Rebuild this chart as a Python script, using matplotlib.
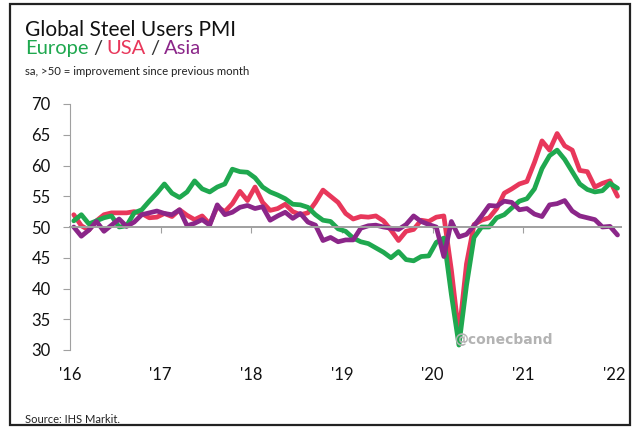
import matplotlib.pyplot as plt
from matplotlib.patches import Rectangle
import numpy as np

# Global Steel Users PMI, monthly Jan 2016 .. Jan 2022
europe = [51.0, 52.0, 50.5, 51.0, 51.5, 51.8, 50.0, 50.2, 52.3, 52.8, 54.2, 55.5,
          57.0, 55.5, 54.8, 55.7, 57.5, 56.2, 55.7, 56.5, 57.0, 59.4, 59.0, 58.9,
          58.0, 56.5, 55.7, 55.2, 54.6, 53.7, 53.6, 53.2, 52.0, 51.1, 50.9, 49.7,
          49.3, 48.2, 47.6, 47.3, 46.6, 45.9, 45.0, 46.0, 44.7, 44.5, 45.2, 45.3,
          47.5, 48.2, 39.0, 30.8, 40.5, 48.3, 50.0, 50.0, 51.5, 52.0, 53.1, 54.2,
          54.6, 56.2, 59.5, 61.6, 62.5, 61.0, 59.0, 57.0, 56.1, 55.7, 55.9, 57.1,
          56.3]
usa = [52.0, 50.2, 49.5, 51.0, 52.0, 52.3, 52.3, 52.3, 52.5, 52.2, 51.5, 51.6,
       52.2, 51.7, 52.8, 51.9, 51.2, 51.8, 50.5, 53.3, 52.5, 53.8, 55.8, 54.3,
       56.5, 54.0, 52.7, 53.0, 53.7, 52.5, 52.0, 52.3, 54.0, 56.0, 55.0, 54.0,
       52.2, 51.3, 51.7, 51.6, 51.8, 51.0, 49.5, 47.8, 49.3, 49.6, 51.1, 50.9,
       51.6, 51.8, 43.0, 32.5, 44.0, 50.4, 51.1, 51.5, 53.0, 55.5, 56.2, 57.0,
       57.4, 60.5, 64.0, 62.5, 65.2, 63.2, 62.5, 59.2, 59.0, 56.5, 57.1, 57.5,
       55.0]
asia = [50.0, 48.5, 49.5, 50.9, 49.3, 50.3, 51.3, 50.1, 50.8, 52.0, 52.3, 52.6,
        52.2, 52.0, 52.8, 50.2, 50.6, 51.2, 50.3, 53.6, 52.0, 52.4, 53.2, 53.5,
        53.0, 53.3, 51.1, 51.8, 52.4, 51.4, 52.2, 50.8, 50.3, 47.8, 48.3, 47.6,
        47.9, 47.9, 49.8, 50.2, 50.3, 50.0, 49.8, 49.6, 50.4, 51.8, 50.9, 50.4,
        50.0, 45.2, 50.9, 48.4, 48.8, 50.2, 51.8, 53.5, 53.4, 54.2, 54.0, 52.8,
        53.0, 52.1, 51.7, 53.6, 53.8, 54.3, 52.6, 51.8, 51.5, 51.2, 50.0, 50.1,
        48.7]

years = [2016, 2017, 2018, 2019, 2020, 2021, 2022]
year_labels = ["'16", "'17", "'18", "'19", "'20", "'21", "'22"]
yticks = [30, 35, 40, 45, 50, 55, 60, 65, 70]

GREEN = '#1fa84f'
RED = '#e8375b'
PURPLE = '#8b2689'
GREY = '#a0a0a0'

plt.rcParams['font.family'] = ['Lato', 'DejaVu Sans']

fig = plt.figure(figsize=(6.36, 4.28), dpi=100)
ax = fig.add_axes([70 / 636, 78 / 428, 551 / 636, 246 / 428])

x = 2016 + (np.arange(len(europe)) + 0.5) / 12
style = dict(lw=3.4, solid_joinstyle='round', solid_capstyle='round')
ax.plot(x, usa, color=RED, **style)
ax.plot(x, europe, color=GREEN, **style)
ax.plot(x, asia, color=PURPLE, **style)

ax.set_xlim(2016, 2022.08)
ax.set_ylim(30, 70)
ax.set_xticks(years)
ax.set_xticklabels(year_labels)
ax.set_yticks(yticks)

for s in ['top', 'right']:
    ax.spines[s].set_visible(False)
ax.spines['left'].set_color(GREY)
ax.spines['bottom'].set_position(('data', 50))
ax.spines['bottom'].set_color(GREY)
ax.spines['bottom'].set_linewidth(1.4)
ax.tick_params(axis='x', length=4, color=GREY, pad=97, labelsize=12, labelcolor='#111')
ax.tick_params(axis='y', length=5, color=GREY, pad=9, labelsize=12, labelcolor='#111')

# titles
fig.text(25 / 636, 1 - 36 / 428, 'Global Steel Users PMI', fontsize=15,
         color='#111111', va='baseline')

renderer = fig.canvas.get_renderer()
parts = [('Europe', GREEN), ('/', '#333333'), ('USA', RED), ('/', '#333333'), ('Asia', PURPLE)]
xpos = 25 / 636
gap = 4.5 / 636
for s, c in parts:
    t = fig.text(xpos, 1 - 54 / 428, s, fontsize=14.5, color=c, va='baseline')
    bb = t.get_window_extent(renderer)
    xpos += bb.width / fig.bbox.width + gap

fig.text(25 / 636, 1 - 75 / 428, 'sa, >50 = improvement since previous month',
         fontsize=8.2, color='#222', va='baseline')
fig.text(25 / 636, 1 - 423 / 428, 'Source: IHS Markit.', fontsize=8,
         color='#222', va='baseline')

# watermark
fig.text(454 / 636, 1 - 340 / 428, '@conecband', fontsize=10, weight='bold',
         color='#b3b3b3', va='center', ha='left', family='DejaVu Sans')

# outer frame
fig.add_artist(Rectangle((10 / 636, 3 / 428), 620 / 636, 421 / 428,
                         transform=fig.transFigure, fill=False, lw=1.6, ec='#222'))

fig.savefig('out.png', dpi=100)
